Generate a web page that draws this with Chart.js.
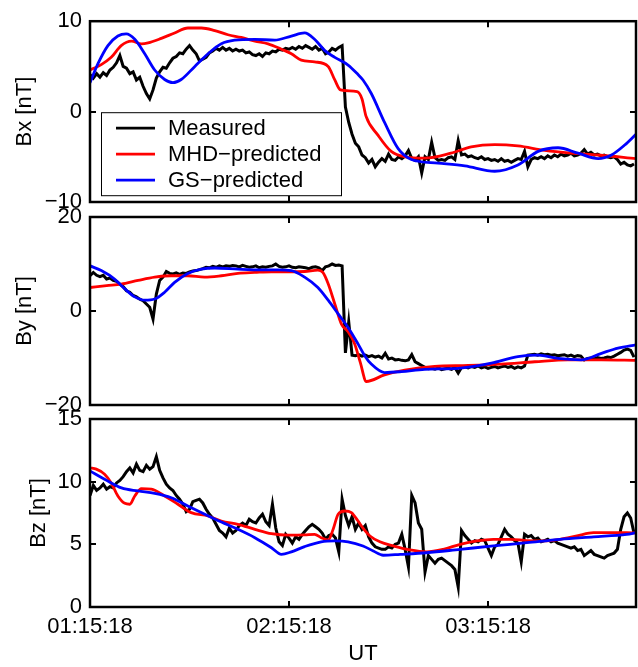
<!DOCTYPE html>
<html lang="en">
<head>
  <meta charset="UTF-8">
  <title>Bx By Bz: measured vs predicted</title>
  <script src="https://cdn.jsdelivr.net/npm/chart.js@4.4.1/dist/chart.umd.min.js"></script>
  <style>
    body { margin: 0; background: #fff; }
    .wrap { position: relative; width: 638px; height: 667px; }
    .wrap canvas { position: absolute; left: 0; top: 0; }
  </style>
</head>
<body>
<div class="wrap">
  <canvas id="bx" width="638" height="667"></canvas>
  <canvas id="by" width="638" height="667"></canvas>
  <canvas id="bz" width="638" height="667"></canvas>
</div>
<script>
// time axis: minutes after 01:15:18 UT
const timeTicks = [0, 60, 120];
const timeLabels = ['01:15:18', '02:15:18', '03:15:18'];
const timeMax = 164.6;

// measured samples, one per minute starting at 0
const bxMeasured = [4.1,3.7,4.2,3.8,4.3,4.0,4.6,4.9,5.4,6.2,
  5.0,4.8,4.2,4.4,3.5,3.8,2.8,2.0,1.4,2.4,
  3.7,4.4,4.9,4.8,5.4,5.9,6.1,6.5,6.4,6.9,
  7.3,6.8,6.4,5.6,5.8,6.0,6.5,6.7,7.0,6.8,
  7.1,6.8,7.0,6.7,6.9,6.7,6.8,6.5,6.6,6.3,
  6.2,6.4,6.1,6.5,6.4,6.7,6.6,6.9,6.8,7.0,
  6.9,7.1,6.9,7.2,7.0,7.3,7.1,6.9,7.2,6.8,
  7.0,6.4,6.6,7.0,6.8,7.1,7.3,0.5,-1.2,-2.5,
  -3.5,-3.9,-4.8,-5.1,-5.7,-5.3,-6.1,-5.6,-5.2,-5.5,
  -4.7,-5.3,-5.4,-5.0,-5.2,-4.9,-4.3,-5.2,-5.4,-5.0,
  -6.8,-5.0,-5.3,-3.4,-5.1,-5.4,-5.3,-5.4,-5.1,-5.0,
  -5.3,-3.2,-4.8,-4.7,-5.0,-4.9,-5.1,-5.2,-5.0,-5.3,
  -5.2,-5.4,-5.3,-5.5,-5.2,-5.5,-5.4,-5.6,-5.4,-5.2,
  -5.3,-4.4,-6.1,-5.3,-5.1,-5.2,-5.0,-5.2,-4.9,-5.1,
  -4.8,-5.0,-4.7,-4.9,-4.8,-4.6,-4.9,-4.8,-4.6,-4.2,
  -4.7,-4.5,-4.8,-4.7,-4.9,-4.8,-5.0,-5.1,-5.0,-5.3,
  -5.8,-5.6,-5.9,-6.0,-5.8];

const byMeasured = [7.5,8.2,7.6,7.3,7.6,6.8,7.0,6.5,6.3,5.7,
  5.2,4.3,4.0,3.3,3.0,2.5,2.2,1.5,0.8,-1.7,
  3.6,6.5,7.2,8.4,8.0,7.9,8.1,7.8,8.1,8.0,
  8.3,8.5,8.6,8.8,9.0,9.3,9.2,9.5,9.3,9.6,
  9.4,9.6,9.5,9.7,9.6,9.4,9.7,9.5,9.3,9.4,
  9.6,9.2,9.4,9.3,9.5,9.6,10.0,9.5,9.3,9.4,
  9.6,9.3,9.2,9.4,9.3,9.2,9.0,9.3,9.4,9.2,
  8.6,9.4,9.6,10.0,9.7,9.8,9.6,-8.9,-2.3,-9.4,
  -9.5,-9.3,-9.6,-9.4,-9.7,-9.5,-9.8,-9.6,-10.0,-9.0,
  -10.2,-10.0,-10.4,-10.3,-10.5,-10.6,-10.4,-9.3,-10.8,-11.2,
  -11.6,-12.0,-12.3,-12.2,-12.4,-12.1,-12.5,-12.3,-12.2,-12.4,
  -12.0,-13.2,-12.0,-11.9,-12.1,-11.8,-12.0,-11.7,-12.1,-11.9,
  -12.2,-12.0,-11.8,-12.1,-11.9,-11.7,-12.0,-11.8,-12.2,-11.9,
  -12.1,-11.7,-9.4,-9.3,-9.2,-9.4,-9.1,-9.3,-9.2,-9.4,
  -9.3,-9.5,-9.4,-9.3,-9.6,-9.4,-9.7,-9.5,-9.6,-10.4,
  -10.1,-10.0,-10.2,-9.9,-10.1,-10.0,-9.8,-9.9,-9.6,-9.2,
  -8.8,-8.3,-8.1,-8.4,-9.8];

const bzMeasured = [8.9,9.7,9.3,9.5,9.8,9.4,9.6,9.5,9.9,10.1,
  10.4,10.8,11.1,10.7,11.4,10.9,10.8,11.3,11.0,11.2,
  12.0,10.9,10.3,9.8,9.5,9.3,8.9,8.6,8.2,7.6,
  7.8,8.4,8.5,8.6,8.3,7.8,7.4,7.1,6.6,6.1,
  5.9,5.6,6.3,5.9,6.1,6.5,6.7,6.5,7.0,6.8,
  6.7,7.1,7.4,6.8,6.5,8.2,6.3,5.2,4.9,5.8,
  5.5,5.1,5.6,5.4,5.8,6.1,6.4,6.6,6.4,6.2,
  5.9,5.4,5.7,5.8,5.5,4.4,8.6,7.3,6.5,7.2,
  6.2,6.7,6.2,6.5,5.6,5.1,4.8,4.7,4.6,4.6,
  4.8,4.7,5.0,5.1,5.8,4.6,3.2,8.9,8.3,6.7,
  6.2,2.8,4.1,3.8,3.5,3.8,3.9,3.7,3.5,3.3,
  3.0,1.6,6.1,5.7,5.4,5.1,5.3,5.2,5.4,5.3,
  4.7,4.1,4.8,5.0,5.6,6.2,5.8,5.6,5.3,5.1,
  3.6,5.8,5.6,5.7,5.4,5.5,5.2,5.3,5.4,5.2,
  5.3,5.1,5.0,4.9,4.8,4.7,4.8,4.5,4.6,4.1,
  4.3,4.5,4.2,4.1,4.0,3.9,4.1,4.2,4.3,4.6,
  6.2,7.2,7.5,7.1,5.9];

// MHD-predicted
const bxMhdTime = [0,3.4,6.4,9.4,12.5,15.5,17.5,21.5,25.5,29.5,33.6,37.6,41.6,45.6,49.7,53.7,57.7,60.7,63.7,67.7,71.8,73.8,75.5,80.5,82.0,83.2,86.8,90.8,94.9,100.9,108.8,114.9,122,129,137.1,145,153.2,164.6];
const bxMhd = [4.6,5.2,6.0,7.3,7.8,7.5,7.6,8.1,8.7,9.25,9.25,8.96,8.5,8.2,7.8,7.5,6.9,6.4,5.7,5.5,5.0,3.5,2.4,2.2,1.4,-0.5,-2.6,-4.4,-5.0,-5.15,-4.6,-3.9,-3.65,-3.8,-4.3,-4.6,-4.8,-5.2];

const byMhdTime = [0,5,9.4,14.5,19.5,24.5,29.5,34.5,39.6,44.6,49.7,54.7,59.7,64.7,68.7,70.2,71.8,73.8,75.8,77.8,79.8,81.5,83.3,88.8,94.9,103.9,114,124,134.1,144.1,154.2,164.6];
const byMhd = [5.0,5.4,5.7,6.5,7.2,7.5,7.5,7.2,7.5,8.0,8.2,8.35,8.35,8.4,8.7,8.2,5.8,1.5,-2.8,-4.4,-7.0,-11.0,-15.0,-13.6,-12.6,-11.8,-11.6,-11.3,-10.8,-10.4,-10.4,-10.5];

const bzMhdTime = [0,1.9,4.4,6.4,8.4,10.5,12.0,13.5,15.5,18.5,22.5,26.5,30.5,35.6,39.6,44.6,49.7,54.7,59.7,64.7,67.7,69.7,71.8,73.3,74.8,76.8,78.8,80.8,82.3,84.4,87.4,91.5,96.5,101.5,106.5,111.6,116.6,121.6,126.7,131.7,136.7,141.7,146.8,151.8,156.8,161.8,164.6];
const bzMhd = [11.1,11.0,10.6,9.9,8.86,8.27,8.2,8.86,9.44,9.4,8.86,8.2,7.53,7.26,6.86,6.6,6.2,5.85,5.73,5.75,5.8,5.53,5.35,6.2,7.4,7.66,7.53,6.86,6.3,5.67,5.2,4.87,4.55,4.4,4.6,5.0,5.27,5.4,5.4,5.3,5.27,5.4,5.67,5.93,5.93,5.93,5.9];

// GS-predicted
const bxGsTime = [0,2.4,5.4,8.4,10.9,13.5,16.5,19.5,22.5,25.0,27.5,31.6,35.6,39.6,43.6,49.7,55.7,60.7,64.7,67.7,70.8,73.8,77.8,80.8,82.3,84.8,88.8,92.9,96.9,104.9,113,122,129,135.1,141.1,147.1,153.2,157.2,161.2,164.6];
const bxGs = [3.2,5.3,7.3,8.36,8.6,8.0,6.4,4.6,3.55,3.2,3.55,5.0,6.4,7.5,7.9,8.0,7.9,8.36,8.7,8.0,6.75,6.0,5.15,4.1,3.5,2.0,-1.2,-4.1,-5.3,-5.7,-6.0,-6.6,-5.9,-4.4,-4.0,-4.6,-5.2,-4.8,-3.7,-2.5];

const byGsTime = [0,3.4,7.4,10.5,13.5,16.5,19.5,22.5,25.5,29.5,33.6,37.6,44.6,51.7,56.7,60.7,64.7,68.7,71.8,74.8,77.8,80.8,82.8,84.8,88.8,93.9,100.9,111,121,129,135.1,141.1,148.1,154.2,159.2,164.6];
const byGs = [9.6,8.6,6.8,4.7,3.0,2.3,2.55,4.0,6.1,8.0,8.9,9.15,8.9,8.75,8.75,8.6,7.2,5.0,2.3,-0.6,-3.5,-7.0,-9.5,-11.3,-13.1,-12.9,-12.4,-12.2,-11.1,-9.7,-9.4,-10.1,-10.4,-9.0,-7.9,-7.2];

const bzGsTime = [0,4.4,9.5,14.5,19.5,24.5,29.5,34.6,39.6,44.6,49.7,54.7,57.7,60.7,64.7,69.7,73.8,77.8,82.3,85.4,88.4,93.5,101.5,111.6,121.6,131.7,141.7,151.8,161.8,164.6];
const bzGs = [10.85,10.2,9.5,9.26,9.07,8.72,8.06,7.4,6.78,6.2,5.53,4.73,4.2,4.4,4.82,5.2,5.27,5.2,4.87,4.47,4.13,4.2,4.33,4.6,4.87,5.13,5.4,5.6,5.8,5.93];

const seriesNames = ['Measured', 'MHD\u2212predicted', 'GS\u2212predicted'];
const seriesColors = ['#000000', '#ff0000', '#0000ff'];

const FONT = { family: '"Liberation Sans", Arial, Helvetica, sans-serif', size: 22 };

function pairs(times, vals) {
  return vals.map((v, i) => ({ x: times[i], y: v }));
}
function perMinute(vals) {
  return vals.map((v, i) => ({ x: i, y: v }));
}

// box round the plot area with inward ticks on all four sides
const framePlugin = {
  id: 'frame',
  afterDatasetsDraw(chart) {
    const { ctx, chartArea: a, scales: { x, y } } = chart;
    ctx.save();
    ctx.strokeStyle = '#000';
    ctx.lineWidth = 2;
    ctx.beginPath();
    x.ticks.forEach(t => {
      const px = Math.round(x.getPixelForValue(t.value));
      ctx.moveTo(px, a.top); ctx.lineTo(px, a.top + 6);
      ctx.moveTo(px, a.bottom); ctx.lineTo(px, a.bottom - 6);
    });
    y.ticks.forEach(t => {
      const py = Math.round(y.getPixelForValue(t.value));
      ctx.moveTo(a.left, py); ctx.lineTo(a.left + 6, py);
      ctx.moveTo(a.right, py); ctx.lineTo(a.right - 6, py);
    });
    ctx.stroke();
    ctx.lineWidth = 2.5;
    ctx.strokeRect(a.left, a.top, a.right - a.left, a.bottom - a.top);
    ctx.restore();
  }
};

// legend box inside the first panel
const boxLegend = {
  id: 'boxLegend',
  afterDraw(chart, args, opts) {
    if (!opts.show) return;
    const { ctx, chartArea: a } = chart;
    const left = a.left + 11, top = a.top + 91, w = 240, h = 83;
    ctx.save();
    ctx.fillStyle = '#fff';
    ctx.fillRect(left, top, w, h);
    ctx.strokeStyle = '#000';
    ctx.lineWidth = 1;
    ctx.strokeRect(left + 0.5, top + 0.5, w, h);
    ctx.font = FONT.size + 'px ' + FONT.family;
    ctx.textBaseline = 'middle';
    ctx.fillStyle = '#000';
    chart.data.datasets.forEach((ds, i) => {
      const cy = top + 16 + i * 26;
      ctx.strokeStyle = ds.borderColor;
      ctx.lineWidth = 2.8;
      ctx.beginPath();
      ctx.moveTo(left + 15, cy); ctx.lineTo(left + 54, cy);
      ctx.stroke();
      ctx.fillText(ds.label, left + 67, cy + 1);
    });
    ctx.restore();
  }
};

function makePanel(id, cfg) {
  const datasets = cfg.data.map((d, i) => ({
    label: seriesNames[i],
    data: d,
    borderColor: seriesColors[i],
    borderWidth: i === 0 ? 3 : 2.8,
    pointRadius: 0,
    fill: false,
    order: 3 - i,
    tension: i === 0 ? 0 : 0.4,
    cubicInterpolationMode: i === 0 ? 'default' : 'monotone'
  }));
  return new Chart(document.getElementById(id), {
    type: 'line',
    data: { datasets },
    plugins: [framePlugin, boxLegend],
    options: {
      responsive: false,
      animation: false,
      events: [],
      layout: { padding: { top: cfg.top, bottom: cfg.bottom, left: 0, right: 2 } },
      plugins: {
        legend: { display: false },
        tooltip: { enabled: false },
        boxLegend: { show: !!cfg.legend }
      },
      scales: {
        x: {
          type: 'linear',
          min: 0,
          max: timeMax,
          grid: { display: false, drawTicks: false },
          border: { display: false },
          afterBuildTicks: s => { s.ticks = timeTicks.map(v => ({ value: v })); },
          afterFit: s => { s.height = cfg.xLabels ? 60 : 0; },
          ticks: {
            display: !!cfg.xLabels,
            padding: 7,
            color: '#000',
            font: FONT,
            maxRotation: 0,
            callback: v => timeLabels[timeTicks.indexOf(v)]
          },
          title: {
            display: !!cfg.xLabels,
            text: 'UT',
            color: '#000',
            font: FONT,
            padding: { top: 0, bottom: 0 }
          }
        },
        y: {
          min: cfg.yMin,
          max: cfg.yMax,
          grid: { display: false, drawTicks: false },
          border: { display: false },
          afterBuildTicks: s => { s.ticks = cfg.yTicks.map(v => ({ value: v })); },
          afterFit: s => { s.width = 90; },
          ticks: {
            padding: 8,
            color: '#000',
            font: FONT,
            callback: v => String(v).replace('-', '\u2212')
          },
          title: {
            display: true,
            text: cfg.yTitle,
            color: '#000',
            font: FONT,
            padding: { top: cfg.titlePad, bottom: 0 }
          }
        }
      }
    }
  });
}

makePanel('bx', {
  yTitle: 'Bx [nT]', yMin: -10, yMax: 10, yTicks: [-10, 0, 10],
  top: 15, bottom: 667 - 202, titlePad: 12, legend: true,
  data: [perMinute(bxMeasured), pairs(bxMhdTime, bxMhd), pairs(bxGsTime, bxGs)]
});
makePanel('by', {
  yTitle: 'By [nT]', yMin: -20, yMax: 20, yTicks: [-20, 0, 20],
  top: 217, bottom: 667 - 405, titlePad: 12,
  data: [perMinute(byMeasured), pairs(byMhdTime, byMhd), pairs(byGsTime, byGs)]
});
makePanel('bz', {
  yTitle: 'Bz [nT]', yMin: 0, yMax: 15, yTicks: [0, 5, 10, 15],
  top: 419, bottom: 0, titlePad: 26, xLabels: true,
  data: [perMinute(bzMeasured), pairs(bzMhdTime, bzMhd), pairs(bzGsTime, bzGs)]
});
</script>
</body>
</html>
